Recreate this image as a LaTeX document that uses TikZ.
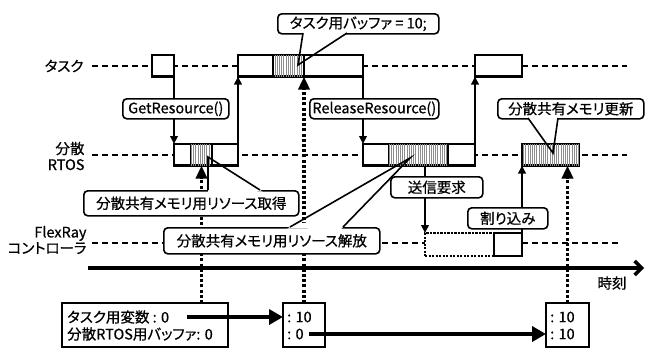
\documentclass[tikz,border=0pt]{standalone}
\usepackage{fontspec}
\setmainfont{Noto Sans CJK JP}[RawFeature={+palt;embolden=0.6}]
\usepackage{tikz}
\usetikzlibrary{arrows.meta, calc, patterns.meta}

\newcommand{\BalloonTail}[3]{
	\def\tailA{#1}
	\def\tailB{#2}
	\def\tailTip{#3}
	\fill[white] ($(\tailA)!-3pt!(\tailTip)$) -- ($(\tailA)!8pt!(\tailTip)$) -- ($(\tailB)!8pt!(\tailTip)$) -- ($(\tailB)!-3pt!(\tailTip)$) -- cycle;
	\draw[line width=1.6pt, line join=miter] (\tailA) -- (\tailTip) -- (\tailB);
}

\begin{document}
\begin{tikzpicture}[x=1pt, y=-1pt,
	font=\fontsize{14.5}{16}\selectfont,
	lane/.style={line width=2.4pt, dash pattern=on 6pt off 4pt},
	slot/.style={draw, line width=2.8pt, fill=white, inner sep=0pt, outer sep=0pt, anchor=north west, minimum height=21.5pt},
	busy/.style={slot, postaction={pattern={Lines[angle=90, distance=2.2pt, line width=0.8pt]}, pattern color=black!45}},
	idle/.style={slot, line width=2.5pt, dash pattern=on 2.2pt off 1.3pt},
	balloon/.style={draw, line width=1.6pt, fill=white, rounded corners=4pt, inner sep=0pt, anchor=north west},
	call/.style={line width=2.2pt, -{Triangle[length=8pt, width=7.5pt]}},
	probe/.style={line width=3.5pt, dash pattern=on 3pt off 2.2pt, -{Triangle[length=13pt, width=11pt]}},
	pass/.style={line width=3.5pt, -{Triangle[length=14pt, width=15pt]}},
	memo/.style={anchor=west, inner sep=0pt}]

	\useasboundingbox (0,0) rectangle (656,349);

	\coordinate (TaskEnd) at (627,66);
	\coordinate (RtosEnd) at (627,155);
	\coordinate (FlexEnd) at (618,243);
	\coordinate (AxisStart) at (88,268);
	\coordinate (AxisEnd) at (644,268);

	% rows
	\node[anchor=east] (lblTask) at (87,66) {タスク};
	\node[anchor=east, align=right] (lblRtos) at (88,156) {分散\\RTOS};
	\node[anchor=east, align=right] (lblFlex) at (90,240) {FlexRay\\コントローラ};

	\draw[lane] ([xshift=5pt]lblTask.east) -- (TaskEnd);
	\draw[lane] (lblRtos.east |- RtosEnd) ++(4,0) -- (RtosEnd);
	\draw[lane] (lblFlex.east |- FlexEnd) ++(2,0) -- (FlexEnd);

	% task
	\node[slot, minimum width=22pt] (t1) at (152,55) {};
	\node[slot, minimum width=35pt] (t2a) at (238,55) {};
	\node[busy, minimum width=31pt] (t2b) at (273,55) {};
	\node[slot, minimum width=59pt] (t2c) at (304,55) {};
	\node[slot, minimum width=47pt] (t3) at (475,55) {};

	% RTOS
	\node[slot, minimum width=17pt] (r1a) at (174,144) {};
	\node[busy, minimum width=21pt] (r1b) at (191,144) {};
	\node[slot, minimum width=26pt] (r1c) at (212,144) {};
	\node[slot, minimum width=26pt] (r2a) at (363,144) {};
	\node[busy, minimum width=59pt] (r2b) at (389,144) {};
	\node[slot, minimum width=27pt] (r2c) at (448,144) {};
	\node[busy, minimum width=57pt] (r3) at (522,144) {};

	% FlexRay
	\node[idle, minimum width=69pt, minimum height=23pt] (f1) at (425,233) {};
	\node[slot, minimum width=28pt, minimum height=23pt] (f2) at (494,233) {};

	\draw[line width=3.5pt, -{Straight Barb[length=7pt, width=14pt]}] (AxisStart) -- (AxisEnd);
	\node (lblTime) at (612,283) {時刻};

	\draw[call] (t1.south east) -- (r1a.north west);
	\draw[call] (r1c.north east) -- (t2a.south west);
	\draw[call] (t2c.south east) -- (r2a.north west);
	\draw[call] (r2c.north east) -- (t3.south west);
	\draw[call] (f1.north west |- r2a.south) -- (f1.north west);
	\draw[call] (f2.north east) -- (r3.south west);

	% memory
	\node[slot, line width=2.2pt, minimum width=166pt, minimum height=44pt] (m1) at (62,303) {};
	\node[slot, line width=2.2pt, minimum width=42pt, minimum height=44pt] (m2) at (283,303) {};
	\node[slot, line width=2.2pt, minimum width=43pt, minimum height=44pt] (m3) at (546,303) {};

	\node[memo] (v1) at (67,317) {タスク用変数 : 0};
	\node[memo] (v2) at (67,334) {分散RTOS用バッファ: 0};
	\node[memo] (v3) at (287,317) {: 10};
	\node[memo] (v4) at (287,334) {: 0};
	\node[memo] (v5) at (550,317) {: 10};
	\node[memo] (v6) at (550,334) {: 10};

	\draw[pass] ([xshift=18pt]v1.east) -- (v1.east -| m2.west);
	\draw[pass] ([xshift=5pt]v4.east) -- (v4.east -| m3.west);

	\draw[probe] (r1b.south |- m1.north) -- (r1b.south);
	\draw[probe] (m2.north) -- (m2.north |- t2b.south);
	\draw[probe] (m3.north) -- (m3.north |- r3.south);

	% balloons
	\node[balloon, minimum width=106pt, minimum height=20pt] (get) at (122,98) {GetResource()};
	\node[balloon, minimum width=129pt, minimum height=20pt] (rel) at (309,98) {ReleaseResource()};
	\node[balloon, minimum width=92pt, minimum height=21pt] (req) at (390,176) {送信要求};
	\node[balloon, minimum width=80pt, minimum height=21pt] (irq) at (467,207) {割り込み};

	\node[balloon, minimum width=161pt, minimum height=20pt] (buf) at (277,13) {タスク用バッファ = 10;};
	\node[balloon, minimum width=146pt, minimum height=20pt] (upd) at (497,98) {分散共有メモリ更新};
	\node[balloon, minimum width=215pt, minimum height=25pt] (acq) at (83,190) {分散共有メモリ用リソース取得};
	\node[balloon, minimum width=216pt, minimum height=26pt] (fre) at (163,227) {分散共有メモリ用リソース解放};

	\coordinate (BufA) at (303,33);
	\coordinate (BufB) at (347,33);
	\coordinate (BufTip) at (298,65);
	\coordinate (UpdA) at (528,118);
	\coordinate (UpdB) at (558,118);
	\coordinate (UpdTip) at (553,153);
	\coordinate (AcqA) at (208,190);
	\coordinate (AcqB) at (260,190);
	\coordinate (AcqTip) at (208,157);
	\coordinate (FreA) at (290,227);
	\coordinate (FreB) at (343,227);
	\coordinate (FreTip) at (410,158);

	\BalloonTail{BufA}{BufB}{BufTip}
	\BalloonTail{UpdA}{UpdB}{UpdTip}
	\BalloonTail{AcqA}{AcqB}{AcqTip}
	\BalloonTail{FreA}{FreB}{FreTip}

\end{tikzpicture}
\end{document}
